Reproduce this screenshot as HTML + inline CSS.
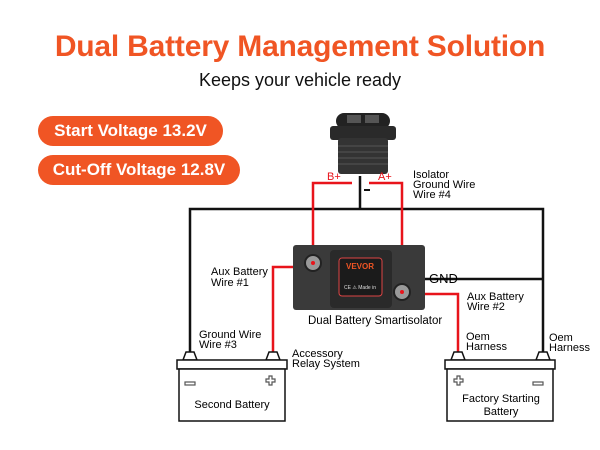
<!DOCTYPE html>
<html><head><style>
body{margin:0;width:600px;height:450px;background:#fff;font-family:"Liberation Sans",sans-serif;overflow:hidden;position:relative}
.t{position:absolute;left:0;width:600px;text-align:center}
.pill{position:absolute;left:38px;height:30px;border-radius:15px;background:#f05524;color:#fff;font-weight:bold;font-size:17px;line-height:30px;text-align:center}
</style></head><body>
<div class="t" style="top:30px;font-size:30px;font-weight:bold;color:#f05524;letter-spacing:-0.2px">Dual Battery Management Solution</div>
<div class="t" style="top:70px;font-size:18px;color:#111">Keeps your vehicle ready</div>
<div class="pill" style="top:116px;width:185px">Start Voltage 13.2V</div>
<div class="pill" style="top:155px;width:202px">Cut-Off Voltage 12.8V</div>
<svg width="600" height="450" style="position:absolute;left:0;top:0" font-family="Liberation Sans, sans-serif" font-size="11">
<g stroke="#111" stroke-width="2.5" fill="none">
<path d="M190 352V209H543V352"/>
<path d="M360 176V209"/>
<path d="M420 279H543"/>
</g>
<g stroke="#e8141b" stroke-width="2.5" fill="none">
<path d="M352 183H313V262"/>
<path d="M369 183H402V292"/>
<path d="M313 267H273V352"/>
<path d="M402 294H458V352"/>
</g>
<!-- switch -->
<rect x="336" y="113" width="54" height="16" rx="8" fill="#222"/>
<rect x="330" y="126" width="66" height="14" rx="3" fill="#2a2a2a"/>
<rect x="338" y="138" width="50" height="36" rx="3" fill="#333"/>
<g stroke="#555" stroke-width="1"><path d="M338 146H388M338 152H388M338 158H388M338 164H388"/></g>
<rect x="347" y="115" width="14" height="8" fill="#555"/><rect x="365" y="115" width="14" height="8" fill="#555"/>
<rect x="364" y="189" width="6" height="2" fill="#111"/>
<text x="327" y="180" fill="#e8141b" font-size="11">B+</text>
<text x="378" y="180" fill="#e8141b" font-size="11">A+</text>
<text x="413" y="178">Isolator</text><text x="413" y="188">Ground Wire</text><text x="413" y="198">Wire #4</text>
<!-- device -->
<rect x="293" y="245" width="132" height="65" rx="3" fill="#3a3a3a"/>
<rect x="330" y="250" width="62" height="58" rx="4" fill="#2a2a2a"/>
<rect x="339" y="258" width="43" height="38" rx="3" fill="#1b1b1b" stroke="#d44" stroke-width="1"/>
<text x="360" y="269" fill="#f05524" font-size="8" font-weight="bold" text-anchor="middle">VEVOR</text>
<text x="360" y="289" fill="#ddd" font-size="5" text-anchor="middle">CE ⚠ Made in</text>
<circle cx="313" cy="263" r="8" fill="#999" stroke="#222" stroke-width="2"/>
<circle cx="402" cy="292" r="8" fill="#999" stroke="#222" stroke-width="2"/>
<circle cx="313" cy="263" r="2" fill="#e8141b"/><circle cx="402" cy="292" r="2" fill="#e8141b"/>
<text x="429" y="283" font-size="13">GND</text>
<text x="211" y="275">Aux Battery</text><text x="211" y="286">Wire #1</text>
<text x="467" y="300">Aux Battery</text><text x="467" y="310">Wire #2</text>
<text x="308" y="324" font-size="11.5">Dual Battery Smartisolator</text>
<text x="199" y="338">Ground Wire</text><text x="199" y="348">Wire #3</text>
<text x="292" y="357">Accessory</text><text x="292" y="367">Relay System</text>
<text x="466" y="340">Oem</text><text x="466" y="350">Harness</text>
<text x="549" y="341">Oem</text><text x="549" y="351">Harness</text>
<!-- batteries -->
<g stroke="#111" stroke-width="1.5" fill="#fff">
<path d="M183 360l3-8h8l3 8z"/><path d="M266 360l3-8h8l3 8z"/>
<rect x="177" y="360" width="110" height="9"/>
<rect x="179" y="369" width="106" height="52"/>
<path d="M451 360l3-8h8l3 8z"/><path d="M536 360l3-8h8l3 8z"/>
<rect x="445" y="360" width="110" height="9"/>
<rect x="447" y="369" width="106" height="52"/>
</g>
<g stroke="#555" stroke-width="1.2" fill="none">
<rect x="185" y="382" width="10" height="3"/>
<path d="M266 379h3v-3h3v3h3v3h-3v3h-3v-3h-3z"/>
<path d="M454 379h3v-3h3v3h3v3h-3v3h-3v-3h-3z"/>
<rect x="533" y="382" width="10" height="3"/>
</g>
<text x="232" y="408" font-size="11" text-anchor="middle">Second Battery</text>
<text x="501" y="402" font-size="11" text-anchor="middle">Factory Starting</text>
<text x="501" y="415" font-size="11" text-anchor="middle">Battery</text>
</svg>
</body></html>
